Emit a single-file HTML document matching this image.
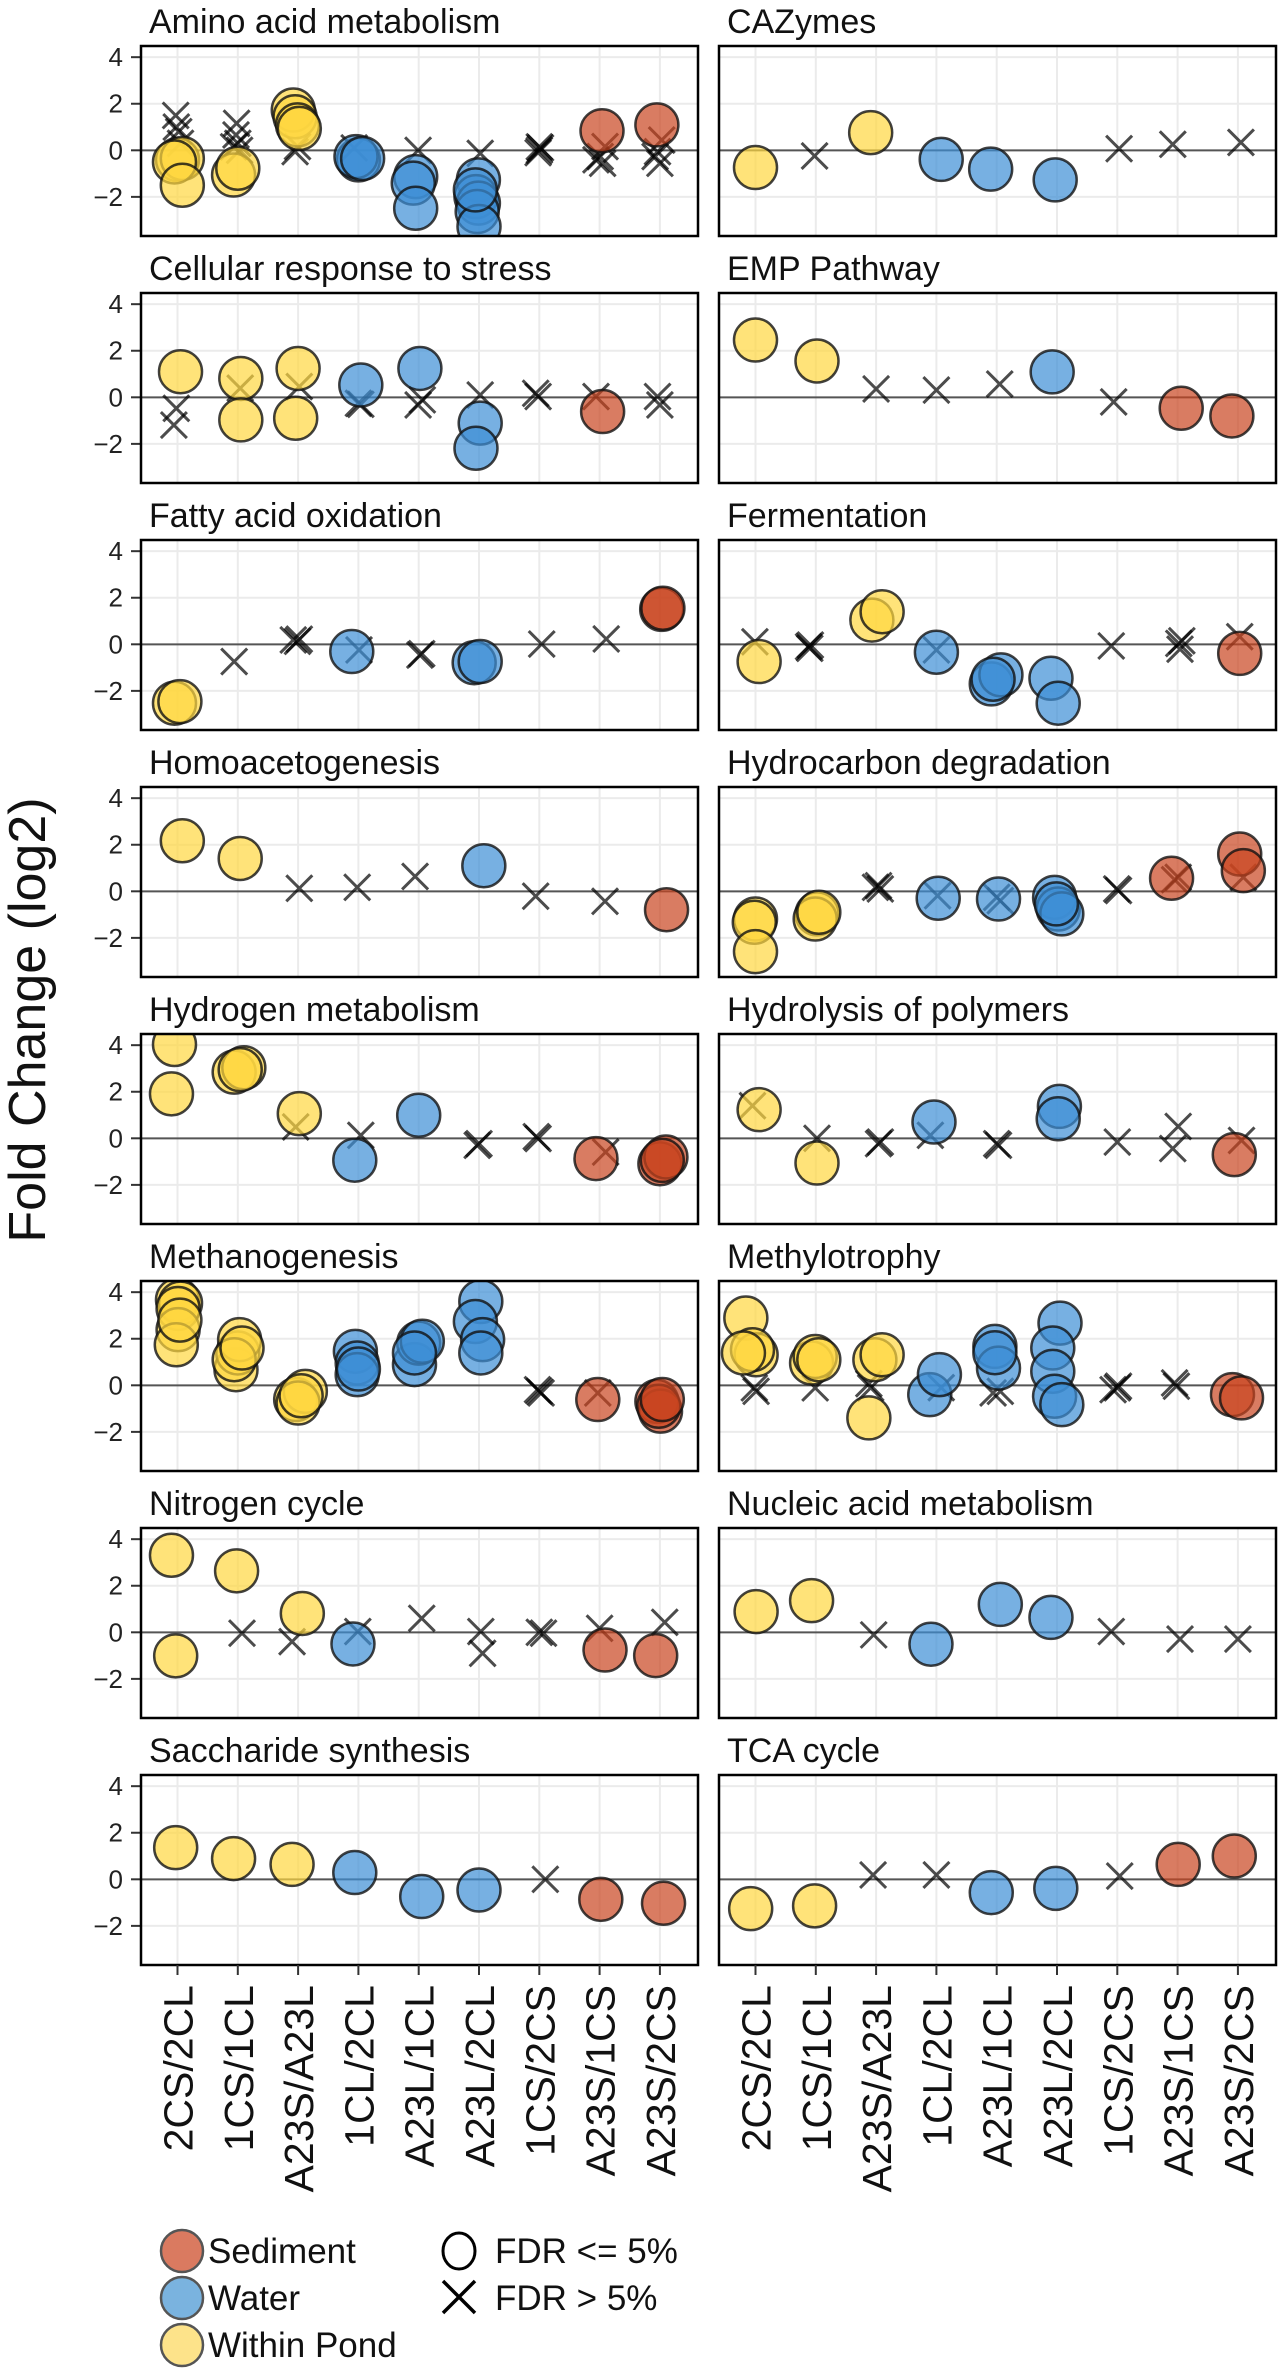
<!DOCTYPE html>
<html><head><meta charset="utf-8"><style>
html,body{margin:0;padding:0;background:#fff;}
svg{display:block;font-family:"Liberation Sans",Arial,sans-serif;}
</style></head><body>
<svg id="chart" width="1281" height="2374" viewBox="0 0 1281 2374" xmlns="http://www.w3.org/2000/svg">
<text transform="translate(45,1020) rotate(-90)" text-anchor="middle" font-size="52" fill="#111">Fold Change (log2)</text>
<g>
 <circle cx="182" cy="2251" r="21" fill="#DA7A60" stroke="#555" stroke-width="2.5"/>
 <text x="208" y="2263" font-size="35" fill="#111">Sediment</text>
 <circle cx="182" cy="2298" r="21" fill="#7AB3DF" stroke="#555" stroke-width="2.5"/>
 <text x="208" y="2310" font-size="35" fill="#111">Water</text>
 <circle cx="182" cy="2345" r="21" fill="#FDE38A" stroke="#555" stroke-width="2.5"/>
 <text x="208" y="2357" font-size="35" fill="#111">Within Pond</text>
 <ellipse cx="459" cy="2251" rx="16" ry="18" fill="none" stroke="#000" stroke-width="3"/>
 <text x="495" y="2263" font-size="35" fill="#111">FDR &lt;= 5%</text>
 <path d="M443 2281 L475 2313 M475 2281 L443 2313" stroke="#000" stroke-width="3.5"/>
 <text x="495" y="2310" font-size="35" fill="#111">FDR &gt; 5%</text>
</g>
</svg>
<script>
// categories and panel titles
const categories = ["2CS/2CL","1CS/1CL","A23S/A23L","1CL/2CL","A23L/1CL","A23L/2CL","1CS/2CS","A23S/1CS","A23S/2CS"];
const groupOfCategory = [0,0,0,1,1,1,2,2,2]; // 0 within pond, 1 water, 2 sediment
const yTicks = [-2,0,2,4];
const yTickLabels = ["\u22122","0","2","4"];
const titles = ["Amino acid metabolism","CAZymes","Cellular response to stress","EMP Pathway",
 "Fatty acid oxidation","Fermentation","Homoacetogenesis","Hydrocarbon degradation",
 "Hydrogen metabolism","Hydrolysis of polymers","Methanogenesis","Methylotrophy",
 "Nitrogen cycle","Nucleic acid metabolism","Saccharide synthesis","TCA cycle"];
// points: [category index, jitter (category units), log2 fold change, significant(1)/not(0)]
const aminoAcid = [[0,0,-0.4,1],[0,0.08,-0.35,1],[0,-0.05,-0.5,1],[0,0.08,-1.5,1],[0,-0.03,1.5,0],[0,-0.02,1.0,0],[0,0.02,0.8,0],[0,0.05,0.3,0],
 [1,-0.07,-1.06,1],[1,0,-0.77,1],[1,-0.02,1.16,0],[1,-0.03,0.66,0],[1,0,0.3,0],[1,0.03,0.0,0],[1,-0.07,0.15,0],
 [2,-0.08,1.73,1],[2,-0.05,1.44,1],[2,-0.01,1.09,1],[2,0.02,0.94,1],[2,-0.05,-0.06,0],[2,-0.01,0.16,0],
 [3,0,-0.41,1],[3,-0.04,-0.27,1],[3,0.07,-0.35,1],[3,-0.07,0.1,0],
 [4,-0.05,-1.13,1],[4,-0.09,-1.41,1],[4,-0.05,-2.49,1],[4,-0.01,0.0,0],
 [5,-0.01,-1.27,1],[5,-0.05,-1.99,1],[5,-0.01,-2.27,1],[5,-0.03,-2.63,1],[5,0,-3.27,1],[5,-0.06,-1.7,1],[5,0.02,-0.13,0],
 [6,0,0.0,0],[6,0.02,0.1,0],[6,-0.02,-0.1,0],[6,0,0.15,0],
 [7,0.04,0.84,1],[7,-0.06,-0.41,0],[7,0.01,-0.27,0],[7,0.05,-0.56,0],[7,0.09,0.16,0],
 [8,-0.05,1.09,1],[8,-0.08,-0.27,0],[8,0,-0.56,0],[8,-0.04,-0.06,0],[8,0.03,0.44,0]];
const cazymes = [[0,0,-0.74,1],[1,-0.02,-0.24,0],[2,-0.09,0.76,1],[3,0.08,-0.39,1],[4,-0.1,-0.81,1],[5,-0.03,-1.27,1],[6,0.03,0.07,0],[7,-0.08,0.26,0],[8,0.05,0.34,0]];
const cellStress = [[0,0.05,1.1,1],[0,-0.02,-0.47,0],[0,-0.06,-1.19,0],
 [1,0.05,0.81,1],[1,0.05,-0.97,1],[1,0.04,0.39,0],
 [2,0,1.24,1],[2,-0.04,-0.9,1],[2,0.02,0.46,0],
 [3,0.04,0.53,1],[3,0,-0.26,0],[3,0.04,-0.3,0],
 [4,0.02,1.24,1],[4,-0.01,-0.33,0],[4,0.06,-0.11,0],
 [5,0.02,-1.11,1],[5,-0.05,-2.19,1],[5,0.02,0.1,0],
 [6,-0.06,0.17,0],[6,-0.02,0.03,0],
 [7,0.05,-0.61,1],[7,-0.06,0.03,0],
 [8,-0.04,0.03,0],[8,0,-0.33,0]];
const empPathway = [[0,0,2.46,1],[1,0.02,1.56,1],[2,0,0.36,0],[3,0,0.31,0],[4,0.05,0.57,1-1],[5,-0.08,1.09,1],[6,-0.06,-0.2,0],[7,0.06,-0.47,1],[8,-0.1,-0.8,1]];
const fattyAcid = [[0,-0.05,-2.53,1],[0,0.04,-2.46,1],[1,-0.06,-0.74,0],[2,-0.08,0.19,0],[2,-0.01,0.13,0],[2,0.02,0.22,0],
 [3,-0.11,-0.31,1],[3,0.01,-0.24,0],[4,0.02,-0.46,0],[4,0.05,-0.4,0],[5,-0.08,-0.79,1],[5,0.02,-0.74,1],
 [6,0.04,0.01,0],[7,0.11,0.23,0],[8,0.03,1.5,1],[8,0.05,1.55,1]];
const fermentation = [[0,0.06,-0.74,1],[0,-0.01,0.11,0],[1,-0.1,-0.17,0],[1,-0.09,-0.03,0],[1,-0.12,-0.1,0],
 [2,-0.07,1.04,1],[2,0.1,1.4,1],[3,0,-0.34,1],[3,0,-0.24,0],
 [4,-0.09,-1.7,1],[4,0.07,-1.31,1],[4,-0.06,-1.5,1],[5,-0.1,-1.46,1],[5,0.02,-2.53,1],
 [6,-0.1,-0.07,0],[7,0.02,0.04,0],[7,0.04,-0.21,0],[7,0.07,0.15,0],[8,0.03,-0.39,1],[8,0.03,0.33,0]];
const homoaceto = [[0,0.08,2.17,1],[1,0.04,1.41,1],[2,0.02,0.13,0],[3,-0.02,0.17,0],[4,-0.06,0.64,0],[5,0.08,1.1,1],[6,-0.06,-0.21,0],[7,0.09,-0.43,0],[8,0.11,-0.79,1]];
const hydrocarbon = [[0,0,-1.19,1],[0,-0.02,-1.33,1],[0,0,-2.59,1],[1,0.02,-0.97,1],[1,-0.01,-1.19,1],[1,0.05,-0.9,1],
 [2,-0.01,0.17,0],[2,0.04,0.24,0],[2,0.07,0.1,0],[3,0.03,-0.3,1],[3,0.02,-0.19,0],
 [4,0.03,-0.33,1],[4,0,-0.26,0],[4,0.06,-0.4,0],[5,-0.04,-0.26,1],[5,0.02,-0.76,1],[5,0.08,-0.97,1],[5,-0.01,-0.54,1],
 [6,-0.01,0.1,0],[6,0.02,0.03,0],[7,-0.1,0.56,1],[7,0.01,0.6,0],[7,-0.05,0.5,0],[8,0.03,1.6,1],[8,0.09,0.89,1],[8,0.09,0.6,0]];
const hydrogenMet = [[0,-0.05,4.03,1],[0,-0.1,1.91,1],[1,-0.06,2.84,1],[1,0.1,3.03,1],[1,0.04,2.95,1],
 [2,0.02,1.06,1],[2,-0.04,0.49,0],[3,-0.06,-0.94,1],[3,0.04,0.13,0],[4,0,0.99,1],
 [5,0,-0.23,0],[5,-0.03,-0.3,0],[6,-0.02,-0.01,0],[6,-0.05,0.07,0],[7,-0.06,-0.87,1],[7,0.1,-0.59,0],
 [8,0,-1.09,1],[8,0.1,-0.8,1],[8,0.04,-0.95,1]];
const hydrolysis = [[0,0.06,1.23,1],[0,-0.05,1.4,0],[1,0.02,-1.06,1],[1,0.02,0.0,0],[2,0.04,-0.23,0],[2,0.07,-0.16,0],
 [3,-0.04,0.7,1],[3,-0.1,0.13,0],[4,0,-0.23,0],[4,0.03,-0.3,0],[5,0.04,1.37,1],[5,0.02,0.84,1],
 [6,0,-0.16,0],[7,0.01,0.51,0],[7,-0.08,-0.44,0],[8,-0.06,-0.7,1],[8,0.06,-0.09,0]];
const methanogen = [[0,0,3.67,1],[0,0.05,3.53,1],[0,0.01,3.3,1],[0,0.01,2.39,1],[0,-0.02,1.74,1],[0,0.04,2.8,1],
 [1,-0.03,0.67,1],[1,0,1.39,1],[1,0.03,1.96,1],[1,-0.06,1.1,1],[1,0.07,1.6,1],
 [2,-0.04,-0.61,1],[2,0.12,-0.26,1],[2,0,-0.76,1],[2,0.05,-0.45,1],
 [3,-0.05,1.46,1],[3,-0.02,0.96,1],[3,-0.02,0.46,1],[3,0,0.7,1],
 [4,-0.07,0.89,1],[4,0,1.81,1],[4,0.06,1.89,1],[4,-0.07,1.39,1],
 [5,0.03,3.6,1],[5,-0.06,2.74,1],[5,0.06,1.96,1],[5,0.03,1.39,1],
 [6,0,-0.26,0],[6,-0.03,-0.19,0],[6,0.03,-0.33,0],[7,-0.03,-0.61,1],[7,-0.03,-0.33,0],
 [8,-0.05,-0.69,1],[8,0.01,-1.11,1],[8,-0.02,-0.9,1],[8,0.04,-0.61,1]];
const methylo = [[0,-0.16,2.89,1],[0,0.01,1.31,1],[0,-0.05,1.53,1],[0,-0.2,1.39,1],[0,0.01,-0.26,0],[0,-0.02,-0.11,0],
 [1,-0.07,0.96,1],[1,-0.01,1.24,1],[1,0.05,1.1,1],[1,-0.01,-0.11,0],
 [2,-0.02,1.1,1],[2,0.1,1.31,1],[2,-0.12,-1.4,1],[2,-0.09,-0.11,0],[2,-0.12,0.07,0],
 [3,-0.11,-0.4,1],[3,0.05,0.46,1],[3,0.08,-0.1,0],
 [4,-0.03,1.67,1],[4,0.03,0.74,1],[4,-0.03,1.4,1],[4,-0.06,-0.33,0],[4,0.06,-0.26,0],
 [5,0.05,2.67,1],[5,-0.07,1.6,1],[5,-0.07,0.6,1],[5,-0.04,-0.47,1],[5,0.08,-0.83,1],
 [6,0,-0.11,0],[6,-0.07,-0.19,0],[6,0.02,-0.04,0],[7,-0.05,0.1,0],[7,-0.02,-0.04,0],
 [8,-0.09,-0.4,1],[8,0.06,-0.54,1]];
const nitrogen = [[0,-0.1,3.31,1],[0,-0.03,-1.01,1],[1,-0.02,2.64,1],[1,0.07,-0.04,0],[2,0.07,0.81,1],[2,-0.1,-0.4,0],
 [3,-0.09,-0.5,1],[3,-0.01,0.03,0],[4,0.05,0.6,0],[5,0.03,0.03,0],[5,0.06,-0.9,0],[6,0,0.0,0],[6,0.07,-0.04,0],
 [7,0.09,-0.76,1],[7,0,0.17,0],[8,-0.07,-1.0,1],[8,0.08,0.43,0]];
const nucleic = [[0,0.01,0.89,1],[1,-0.07,1.36,1],[2,-0.04,-0.11,0],[3,-0.09,-0.51,1],[4,0.06,1.2,1],[5,-0.1,0.64,1],[6,-0.1,0.03,0],[7,0.04,-0.29,0],[8,0,-0.29,0]];
const saccharide = [[0,-0.03,1.36,1],[1,-0.07,0.89,1],[2,-0.1,0.64,1],[3,-0.06,0.29,1],[4,0.05,-0.74,1],[5,0,-0.46,1],[6,0.1,0.0,0],[7,0.02,-0.86,1],[8,0.06,-1.03,1]];
const tcaCycle = [[0,-0.08,-1.26,1],[1,-0.02,-1.14,1],[2,-0.05,0.19,0],[3,0,0.19,0],[4,-0.09,-0.57,1],[5,-0.02,-0.39,1],[6,0.04,0.14,0],[7,0.01,0.64,1],[8,-0.06,1.0,1]];
const panelData = [aminoAcid,cazymes,cellStress,empPathway,fattyAcid,fermentation,homoaceto,hydrocarbon,
 hydrogenMet,hydrolysis,methanogen,methylo,nitrogen,nucleic,saccharide,tcaCycle];

const NS="http://www.w3.org/2000/svg";
const svg=document.getElementById('chart');
function mk(tag,attrs,parent){const e=document.createElementNS(NS,tag);for(const k in attrs)e.setAttribute(k,attrs[k]);(parent||svg).appendChild(e);return e;}
const colLeft=[141,719], panelW=557, panelH=190, firstTop=46, rowPitch=247;
const yMax=4.48, yMin=-3.68;
const fills=["#FFD740","#3D8FD6","#C9441F"];
const groupNames=["within-pond","water","sediment"];
function yScale(top,v){return top+(yMax-v)/(yMax-yMin)*panelH;}
function xScale(left,c){return left+36.5+c*60.3;}

panelData.forEach((pts,pi)=>{
  const row=Math.floor(pi/2), col=pi%2;
  const left=colLeft[col], top=firstTop+row*rowPitch;
  const g=mk('g',{});
  
  
  const t=mk('text',{x:left+8,y:top-13,'font-size':34,fill:'#111'},g);
  
  
  t.textContent=titles[pi];
  const grid=mk('g',{},g);
  
  
  categories.forEach((c,i)=>{const x=xScale(left,i);const l=mk('line',{x1:x,x2:x,y1:top,y2:top+panelH,stroke:'#EBEBEB','stroke-width':2},grid);
    
    });
  yTicks.forEach((v,i)=>{const y=yScale(top,v);
    const l=mk('line',{x1:left,x2:left+panelW,y1:y,y2:y,stroke:v===0?'#555':'#EBEBEB','stroke-width':2},grid);
    
    
    if(col===0){
      const tk=mk('line',{x1:left-10,x2:left,y1:y,y2:y,stroke:'#333','stroke-width':2},g);
      
      
      const tl=mk('text',{x:left-18,y:y+9,'text-anchor':'end','font-size':26,fill:'#222'},g);
      
      
      tl.textContent=yTickLabels[i];
    }
  });
  const clip=mk('clipPath',{id:'clip'+pi},g);
  mk('rect',{x:left,y:top,width:panelW,height:panelH},clip);
  const marks=mk('g',{'clip-path':'url(#clip'+pi+')'},g);
  
  
  pts.filter(p=>!p[3]).forEach(p=>{
    const x=xScale(left,p[0]+p[1]), y=yScale(top,p[2]), s=13;
    const e=mk('path',{d:`M${x-s} ${y-s}L${x+s} ${y+s}M${x+s} ${y-s}L${x-s} ${y+s}`,stroke:'#000','stroke-opacity':0.7,'stroke-width':3},marks);
    
    
  });
  pts.filter(p=>p[3]).forEach(p=>{
    const gi=groupOfCategory[p[0]];
    const x=xScale(left,p[0]+p[1]), y=yScale(top,p[2]);
    const e=mk('circle',{cx:x,cy:y,r:21.5,fill:fills[gi],'fill-opacity':0.7,stroke:'#111','stroke-opacity':0.8,'stroke-width':2.5},marks);
    
    
  });
  const b=mk('rect',{x:left,y:top,width:panelW,height:panelH,fill:'none',stroke:'#000','stroke-width':2.5},g);
  
  
  if(row===7){
    categories.forEach((c,i)=>{
      const x=xScale(left,i);
      const tk=mk('line',{x1:x,x2:x,y1:top+panelH,y2:top+panelH+10,stroke:'#333','stroke-width':2},g);
      
      
      const tl=mk('text',{transform:`translate(${x+15},${top+panelH+20}) rotate(-90)`,'text-anchor':'end','font-size':41,fill:'#111'},g);
      
      
      tl.textContent=c;
    });
  }
});
</script>
</body></html>
